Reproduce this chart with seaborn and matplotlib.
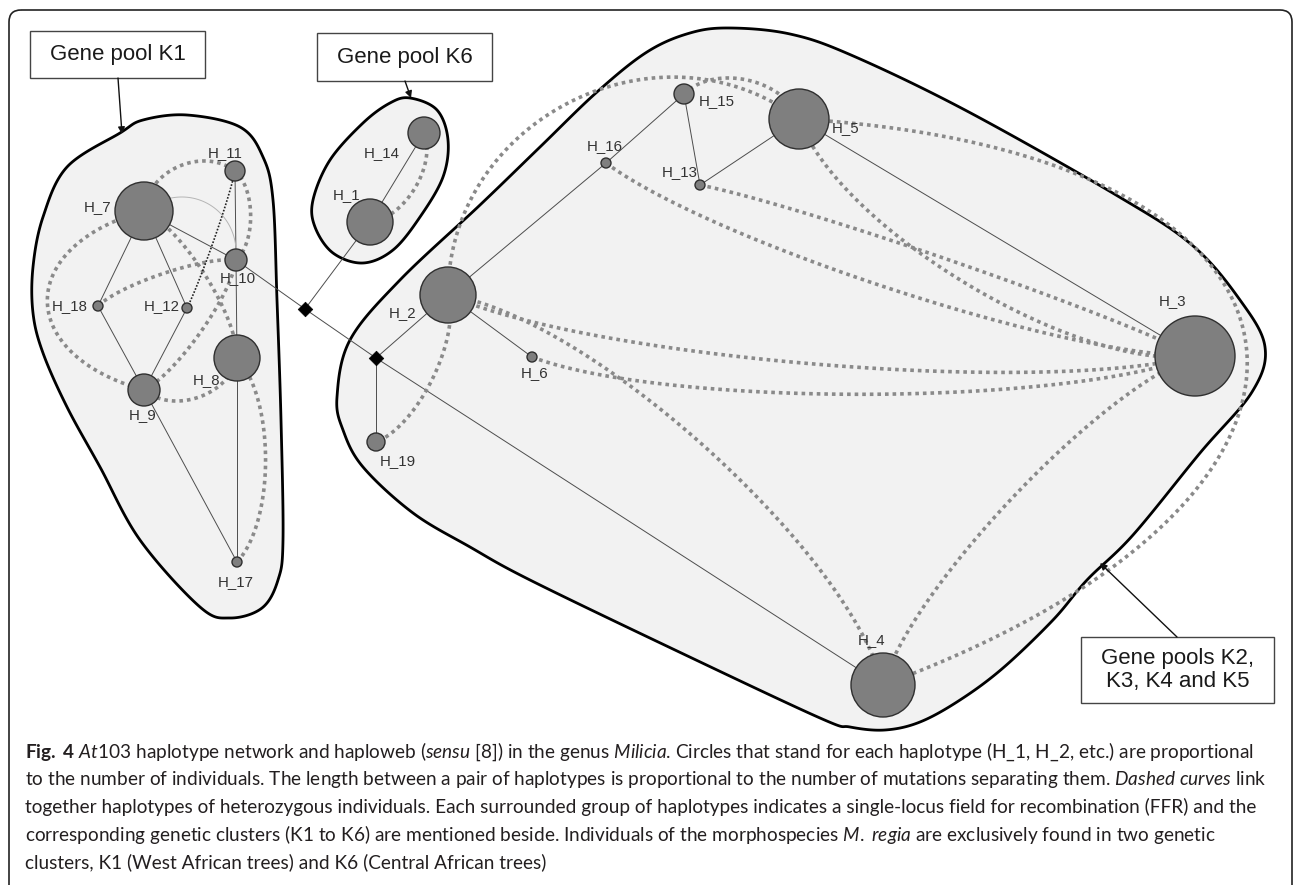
import numpy as np
import matplotlib
matplotlib.use("Agg")
import matplotlib.pyplot as plt
from matplotlib.patches import Polygon, FancyBboxPatch, Rectangle
import seaborn as sns

# Haplotype nodes (pixel layout of the network) and circle radius ~ number of individuals
NODES = ["H_1", "H_2", "H_3", "H_4", "H_5", "H_6", "H_7", "H_8", "H_9", "H_10",
         "H_11", "H_12", "H_13", "H_14", "H_15", "H_16", "H_17", "H_18", "H_19"]
NODE_X = [370, 448, 1195, 883, 799, 532, 144, 237, 144, 236,
          235, 187, 700, 424, 684, 606, 237, 98, 376]
NODE_Y = [222, 295, 356, 685, 119, 357, 211, 358, 390, 260,
          171, 308, 185, 133, 94, 163, 562, 306, 442]
NODE_R = [23, 28, 40, 32, 30, 5, 29, 23, 16, 11,
          10, 5, 5, 16, 10, 5, 5, 5, 9]

# median vectors (black diamonds)
MEDIAN = ["D1", "D2"]
MEDIAN_X = [305, 376]
MEDIAN_Y = [309, 358]

# mutational links of the network
SOLID_EDGES = [("H_7", "H_18"), ("H_7", "H_12"), ("H_7", "H_10"), ("H_18", "H_9"),
               ("H_12", "H_9"), ("H_11", "H_10"), ("H_10", "H_8"), ("H_8", "H_17"),
               ("H_9", "H_17"), ("H_10", "D1"), ("D1", "D2"), ("D2", "H_4"),
               ("D1", "H_1"), ("H_1", "H_14"), ("D2", "H_2"), ("D2", "H_19"),
               ("H_2", "H_16"), ("H_16", "H_15"), ("H_15", "H_13"), ("H_13", "H_5"),
               ("H_5", "H_3"), ("H_2", "H_6")]

# haploweb: heterozygous co-occurrence curves (from, to, bend)
WEB_EDGES = [("H_7", "H_11", -0.27), ("H_11", "H_10", -0.17), ("H_7", "H_8", -0.10),
             ("H_7", "H_9", 0.54), ("H_18", "H_10", -0.07), ("H_9", "H_8", 0.25),
             ("H_9", "H_10", 0.08), ("H_8", "H_17", -0.14), ("H_1", "H_14", 0.20),
             ("H_2", "H_5", -0.30), ("H_15", "H_5", -0.23), ("H_5", "H_4", -0.715),
             ("H_5", "H_3", 0.12), ("H_16", "H_3", 0.05), ("H_13", "H_3", -0.02),
             ("H_2", "H_3", 0.052), ("H_6", "H_3", 0.057), ("H_2", "H_4", -0.10),
             ("H_2", "H_19", -0.14), ("H_3", "H_4", 0.077)]
FINE_DOTTED = [("H_12", "H_11", 0.02)]
FAINT_CURVE = [("H_7", "H_10", -0.35)]

# label placement
LABEL_POS = {"H_7": (98, 207), "H_11": (225, 153), "H_10": (238, 278), "H_18": (70, 306),
             "H_12": (162, 306), "H_9": (143, 415), "H_8": (207, 380), "H_17": (236, 582),
             "H_14": (382, 153), "H_1": (347, 195), "H_2": (403, 313), "H_6": (535, 373),
             "H_19": (398, 461), "H_16": (605, 146), "H_15": (717, 101), "H_13": (680, 172),
             "H_5": (846, 128), "H_3": (1172, 301), "H_4": (872, 640)}

# gene pool outlines
HULL_K1 = [(120, 133), (143, 120), (187, 115), (240, 127), (263, 157), (273, 200), (277, 300),
           (281, 420), (283, 540), (278, 580), (262, 608), (230, 618), (200, 607), (140, 540),
           (100, 467), (67, 407), (43, 353), (33, 313), (33, 267), (43, 217), (67, 167)]
HULL_K6 = [(410, 98), (437, 110), (448, 140), (443, 177), (420, 217), (393, 250), (363, 263),
           (333, 253), (315, 227), (313, 200), (330, 160), (363, 123), (390, 103)]
HULL_K25 = [(730, 28), (790, 34), (851, 55), (965, 110), (1116, 195), (1192, 245), (1240, 300),
            (1265, 347), (1252, 392), (1200, 453), (1133, 535), (1087, 580), (1053, 620),
            (1003, 668), (960, 700), (920, 722), (885, 730), (850, 727), (820, 718),
            (675, 650), (530, 580), (470, 547), (413, 513), (363, 467), (343, 430), (337, 397),
            (350, 340), (400, 280), (480, 205), (540, 147), (597, 92), (647, 52), (690, 33)]

BOX_TEXT = ["Gene pool K1", "Gene pool K6", "Gene pools K2,\nK3, K4 and K5"]

CAPTION = [
    r"$\mathbf{Fig.}$ $\mathbf{4}$ $\mathit{At103}$ haplotype network and haploweb ($\mathit{sensu}$ [8]) in the genus $\mathit{Milicia}$. Circles that stand for each haplotype (H_1, H_2, etc.) are proportional",
    r"to the number of individuals. The length between a pair of haplotypes is proportional to the number of mutations separating them. $\mathit{Dashed}$ $\mathit{curves}$ link",
    "together haplotypes of heterozygous individuals. Each surrounded group of haplotypes indicates a single-locus field for recombination (FFR) and the",
    r"corresponding genetic clusters (K1 to K6) are mentioned beside. Individuals of the morphospecies $\mathit{M.}$ $\mathit{regia}$ are exclusively found in two genetic",
    "clusters, K1 (West African trees) and K6 (Central African trees)",
]

sns.set_theme(style="white")
plt.rcParams["font.family"] = ["Liberation Sans", "DejaVu Sans"]
plt.rcParams["mathtext.fontset"] = "custom"
plt.rcParams["mathtext.rm"] = "Lato"
plt.rcParams["mathtext.it"] = "Lato:italic"
plt.rcParams["mathtext.bf"] = "Lato:bold"

W, H = 1293, 885
fig = plt.figure(figsize=(W / 100, H / 100), dpi=100)
ax = fig.add_axes([0, 0, 1, 1])
ax.set_xlim(0, W)
ax.set_ylim(H, 0)
ax.axis("off")

pos = {n: np.array([x, y], float) for n, x, y in zip(NODES, NODE_X, NODE_Y)}
pos.update({n: np.array([x, y], float) for n, x, y in zip(MEDIAN, MEDIAN_X, MEDIAN_Y)})


def smooth_closed(pts, n=24):
    P = np.array(pts, float)
    out = []
    t = np.linspace(0, 1, n, endpoint=False)[:, None]
    for i in range(len(P)):
        p0, p1, p2, p3 = P[i - 1], P[i], P[(i + 1) % len(P)], P[(i + 2) % len(P)]
        out.append(0.5 * (2 * p1 + (-p0 + p2) * t + (2 * p0 - 5 * p1 + 4 * p2 - p3) * t ** 2
                          + (-p0 + 3 * p1 - 3 * p2 + p3) * t ** 3))
    return np.vstack(out)


def curve(a, b, bend, n=120):
    a, b = pos[a], pos[b]
    d = b - a
    L = np.hypot(*d)
    nrm = np.array([-d[1], d[0]]) / L
    h = bend * L / 0.75
    c1 = a + 0.2 * d + h * nrm
    c2 = b - 0.2 * d + h * nrm
    t = np.linspace(0, 1, n)[:, None]
    return (1 - t) ** 3 * a + 3 * (1 - t) ** 2 * t * c1 + 3 * (1 - t) * t ** 2 * c2 + t ** 3 * b


# outer frame
ax.add_patch(FancyBboxPatch((9, 10), 1283, 920, boxstyle="round,pad=0,rounding_size=12",
                            fc="none", ec="#222222", lw=1.2, zorder=0))

# gene pool hulls
for hull in [HULL_K1, HULL_K6, HULL_K25]:
    ax.add_patch(Polygon(smooth_closed(hull), closed=True, fc="#f2f2f2", ec="black",
                         lw=2.0, zorder=1))

# network links
for a, b in SOLID_EDGES:
    ax.plot([pos[a][0], pos[b][0]], [pos[a][1], pos[b][1]], color="#4d4d4d", lw=0.7, zorder=2)
for a, b, bend in FAINT_CURVE:
    c = curve(a, b, bend)
    ax.plot(c[:, 0], c[:, 1], color="#b5b5b5", lw=0.7, zorder=2)
for a, b, bend in WEB_EDGES:
    c = curve(a, b, bend)
    ax.plot(c[:, 0], c[:, 1], color="#8a8a8a", lw=2.6, ls=(0, (1, 1.1)),
            dash_capstyle="butt", zorder=3)
for a, b, bend in FINE_DOTTED:
    c = curve(a, b, bend)
    ax.plot(c[:, 0], c[:, 1], color="#222222", lw=1.2, ls=(0, (1, 1)), zorder=3)

# haplotype circles
area = (1.44 * np.array(NODE_R)) ** 2
sns.scatterplot(x=NODE_X, y=NODE_Y, s=area, color="#7f7f7f", edgecolor="#2f2f2f",
                linewidth=1.0, ax=ax, zorder=4, legend=False)
sns.scatterplot(x=MEDIAN_X, y=MEDIAN_Y, s=55, marker="D", color="black", edgecolor="black",
                linewidth=0.5, ax=ax, zorder=4, legend=False)

for n in NODES:
    lx, ly = LABEL_POS[n]
    ax.text(lx, ly, n, fontsize=10.8, color="#333333", ha="center", va="center", zorder=5)

# gene pool boxes and arrows
boxes = [(30, 31, 175, 47), (317, 33, 175, 48), (1081, 637, 193, 66)]
arrows = [((118, 78), (122, 134)), ((405, 81), (411, 98)), ((1177, 637), (1100, 563))]
for (x0, y0, bw, bh), txt, (p0, p1) in zip(boxes, BOX_TEXT, arrows):
    ax.add_patch(Rectangle((x0, y0), bw, bh, fc="white", ec="#444444", lw=1.0, zorder=5))
    ax.text(x0 + bw / 2, y0 + bh / 2, txt, fontsize=16, ha="center", va="center",
            color="#1a1a1a", linespacing=1.15, zorder=6)
    ax.annotate("", xy=p1, xytext=p0,
                arrowprops=dict(arrowstyle="-|>", color="#111111", lw=1.0, mutation_scale=10,
                                shrinkA=0, shrinkB=0), zorder=6)

# caption, sized so the first line spans the frame width
cap_kw = dict(family=["Lato", "DejaVu Sans"], color="#231f20", ha="left", va="center")
texts = [ax.text(25, 752 + 27.5 * i, line, fontsize=12, **cap_kw) for i, line in enumerate(CAPTION)]
fig.canvas.draw()
w = texts[0].get_window_extent(fig.canvas.get_renderer()).width
fs = 12 * 1230 / w
for t in texts:
    t.set_fontsize(fs)

fig.savefig("out.png", dpi=100)
